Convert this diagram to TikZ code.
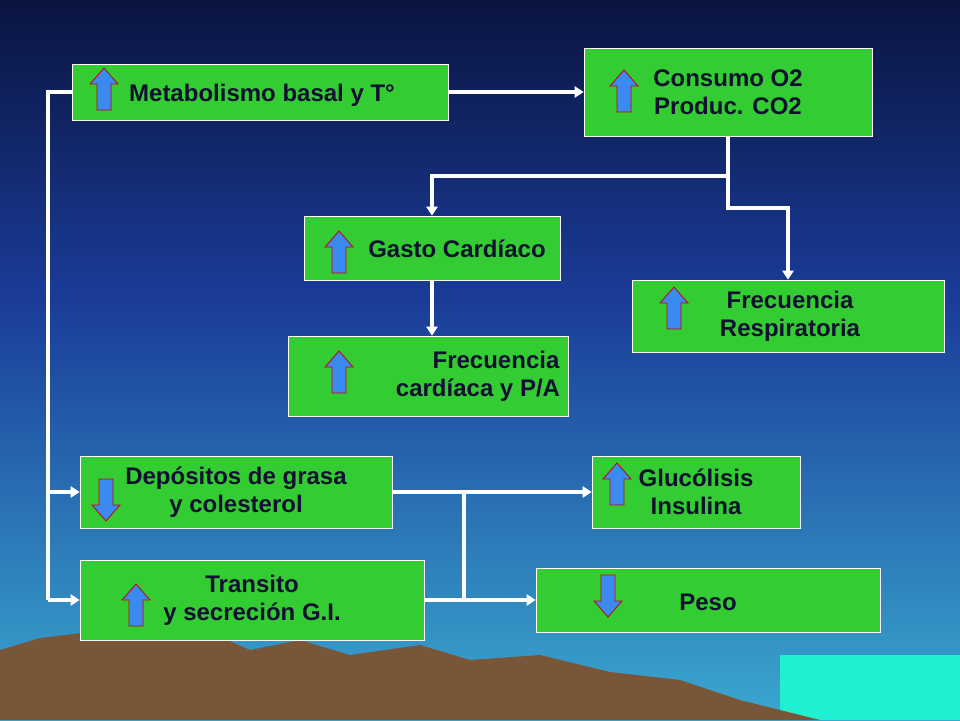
\documentclass[tikz,border=0pt]{standalone}
\usepackage{fontspec}
\setmainfont{Liberation Sans}
\usetikzlibrary{arrows.meta}
\definecolor{boxgreen}{HTML}{33CC33}
\definecolor{skytop}{HTML}{0A1440}
\definecolor{skymid}{HTML}{1A3C98}
\definecolor{skylow}{HTML}{3AA8D0}
\definecolor{rock}{HTML}{7A5638}
\definecolor{sea}{HTML}{20F0D0}
\definecolor{iconblue}{HTML}{3A8AF0}
\definecolor{txt}{HTML}{101030}
\begin{document}
\begin{tikzpicture}[x=1pt,y=-1pt]
  \tikzstyle{box}=[draw=white, line width=0.6pt, fill=boxgreen]
  \tikzstyle{lbl}=[font=\fontsize{24}{28}\selectfont\bfseries, text=txt, align=center]
  \tikzstyle{link}=[draw=white, line width=4pt]
  \tikzstyle{arr}=[link, -{Triangle[length=9pt,width=11pt]}]
  \tikzstyle{icon}=[draw=red!80!black, fill=iconblue, line width=0.8pt]
  \tikzset{uparr/.pic={\draw[icon] (0,-21) -- (14,-5) -- (7,-5) -- (7,21) -- (-7,21) -- (-7,-5) -- (-14,-5) -- cycle;},
           dnarr/.pic={\draw[icon] (0,21) -- (14,5) -- (7,5) -- (7,-21) -- (-7,-21) -- (-7,5) -- (-14,5) -- cycle;}}

  % background
  \shade[top color=skytop, bottom color=skymid] (0,0) rectangle (960,300);
  \shade[top color=skymid, bottom color=skylow] (0,300) rectangle (960,720);
  \fill[sea] (780,655) rectangle (960,720);
  \fill[rock] (0,720) -- (0,650) -- (40,638) -- (90,632) -- (140,640) -- (200,628) -- (250,650) -- (300,640)
    -- (350,655) -- (420,645) -- (470,660) -- (540,655) -- (610,672) -- (680,680) -- (740,700) -- (820,720) -- cycle;
  \useasboundingbox (0,0) rectangle (960,720);

  % boxes
  \node[box, minimum width=376pt, minimum height=56pt] (meta) at (260,92) {};
  \node[box, minimum width=288pt, minimum height=88pt] (consumo) at (728,92) {};
  \node[box, minimum width=256pt, minimum height=64pt] (gasto) at (432,248) {};
  \node[box, minimum width=312pt, minimum height=72pt] (fresp) at (788,316) {};
  \node[box, minimum width=280pt, minimum height=80pt] (fcard) at (428,376) {};
  \node[box, minimum width=312pt, minimum height=72pt] (grasa) at (236,492) {};
  \node[box, minimum width=208pt, minimum height=72pt] (gluco) at (696,492) {};
  \node[box, minimum width=344pt, minimum height=80pt] (transito) at (252,600) {};
  \node[box, minimum width=344pt, minimum height=64pt] (peso) at (708,600) {};

  % texts
  \node[lbl] (tmeta) at (262,95) {Metabolismo basal y T°};
  \node[lbl] (tcons) at (728,92) {Consumo O2\\Produc. CO2};
  \node[lbl] (tgasto) at (457,249) {Gasto Cardíaco};
  \node[lbl] (tfresp) at (790,316) {Frecuencia\\Respiratoria};
  \node[lbl] (tfcard) at (478,376) {\hspace*{1.5em}Frecuencia\\cardíaca y P/A};
  \node[lbl] (tgrasa) at (236,492) {Depósitos de grasa\\y colesterol};
  \node[lbl] (tgluco) at (696,492) {Glucólisis\\Insulina};
  \node[lbl] (ttrans) at (252,600) {Transito\\y secreción G.I.};
  \node[lbl] (tpeso) at (708,602) {Peso};

  % icons
  \pic at (104,89) {uparr};
  \pic at (624,91) {uparr};
  \pic at (339,252) {uparr};
  \pic at (674,308) {uparr};
  \pic at (339,372) {uparr};
  \pic at (106,500) {dnarr};
  \pic at (617,484) {uparr};
  \pic at (136,605) {uparr};
  \pic at (608,596) {dnarr};

  % connectors
  \coordinate (split) at (728,176);
  \coordinate (left) at (48,92);
  \coordinate (mid) at (464,492);
  \draw[arr] (meta) -- (consumo);
  \draw[link] (meta.west) -- (left) -- (left |- transito.west);
  \draw[arr] (left |- grasa.west) -- (grasa.west);
  \draw[arr] (left |- transito.west) -- (transito.west);
  \draw[link] (consumo.south) -- (split);
  \draw[arr] (split) -- (432,176) -- (gasto.north);
  \draw[arr] (split) -- (728,208) -- (788,208) -- (fresp.north);
  \draw[arr] (gasto.south) -- (gasto.south |- fcard.north);
  \draw[arr] (grasa) -- (gluco);
  \draw[link] (mid) -- (mid |- transito.east);
  \draw[arr] (transito) -- (peso);
\end{tikzpicture}
\end{document}
